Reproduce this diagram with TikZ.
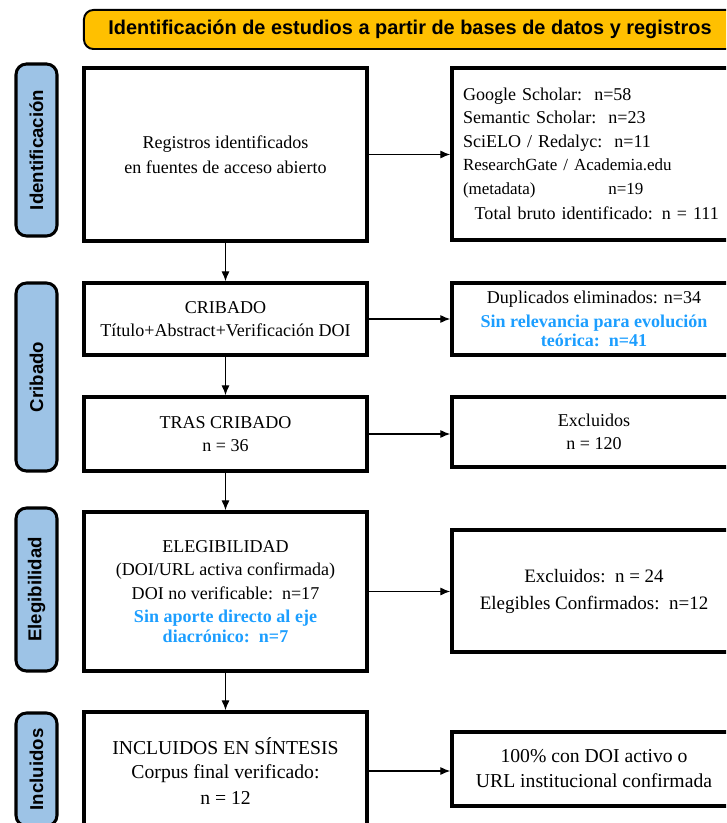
\documentclass[tikz,border=0pt]{standalone}
\usepackage{fontspec}
\setmainfont{Liberation Serif}
\setsansfont{Liberation Sans}
\usepackage{xcolor}
\usetikzlibrary{arrows,arrows.meta}
\usetikzlibrary{positioning}
\definecolor{myyellow}{RGB}{255,192,0}
\definecolor{myblue}{RGB}{157,195,230}
\definecolor{mysky}{RGB}{28,158,255}
\newcommand{\hl}{\color{mysky}\bfseries}

\begin{document}
\begin{tikzpicture}[x=0.03cm, y=-0.03cm,
    box/.style={draw, line width=3pt, minimum width=8.49cm, align=center, inner sep=2pt,
        font=\fontsize{15.4}{20}\selectfont},
    side/.style={draw, line width=3pt, minimum width=8.52cm, align=center, inner sep=2pt,
        font=\fontsize{15.4}{20}\selectfont},
    phase/.style={draw, line width=2.6pt, fill=myblue, rounded corners=9pt, rotate=90,
        minimum height=1.23cm, font=\sffamily\bfseries\fontsize{15.9}{18}\selectfont},
    arr/.style={-{Latex[length=8.5pt,width=7pt]}, line width=1.1pt}]

    \useasboundingbox (0,0) rectangle (726,823);
    \clip (0,0) rectangle (726,823);

    \node[draw, line width=1.7pt, fill=myyellow, rounded corners=8pt, minimum width=19.56cm,
        minimum height=1.17cm, font=\sffamily\bfseries\fontsize{17}{20}\selectfont]
        (title) at (410,29.5) {Identificación de estudios a partir de bases de datos y registros};

    \node[phase, minimum width=5.16cm] (ident) at (36.5,150) {Identificación};
    \node[phase, minimum width=5.64cm] (crib) at (36.5,377) {Cribado};
    \node[phase, minimum width=4.89cm] (eleg) at (36.5,589.5) {Elegibilidad};
    \node[phase, minimum width=3.39cm] (incl) at (36.5,769.5) {Incluidos};

    \node[box, minimum height=5.19cm] (reg) at (225.5,154.5)
        {Registros identificados\\[1.3pt] en fuentes de acceso abierto};
    \node[box, minimum height=2.16cm] (cribado) at (225.5,319)
        {CRIBADO\\ Título+Abstract+Verificación DOI};
    \node[box, minimum height=2.22cm] (tras) at (225.5,434)
        {TRAS CRIBADO\\ n = 36};
    \node[box, minimum height=4.77cm] (elegib) at (225.5,591.5)
        {ELEGIBILIDAD\\ (DOI/URL activa confirmada)\\ DOI no verificable:\ \ n=17\\
        \hl Sin aporte directo al eje\\[-3pt] \hl diacrónico:\ \ n=7};
    \node[box, minimum height=3.54cm, font=\fontsize{16.8}{20.5}\selectfont] (sintesis) at (225.5,771)
        {INCLUIDOS EN SÍNTESIS\\ Corpus final verificado:\\[1.5pt] n = 12};

    \node[side, align=left, text width=7.86cm, inner xsep=0.33cm, minimum height=5.16cm]
        (fuentes) at (594,154)
        {Google Scholar:\ \ n=58\\ Semantic Scholar:\ \ n=23\\ SciELO / Redalyc:\ \ n=11\\
        \fontsize{14.5}{20}\selectfont ResearchGate / Academia.edu\\
        \fontsize{14.5}{20}\selectfont (metadata)\hspace{62pt}n=19\\[2pt]
        \fontsize{15.4}{20}\selectfont\hspace*{10pt}Total bruto identificado: n = 111};
    \node[side, minimum height=2.16cm] (duplic) at (594,319)
        {Duplicados eliminados: n=34\\
        \hl Sin relevancia para evolución\\[-3.4pt] \hl teórica:\ \ n=41};
    \node[side, minimum height=2.10cm] (excl) at (594,432)
        {Excluidos\\ n = 120};
    \node[side, minimum height=3.66cm, font=\fontsize{16.2}{23}\selectfont] (excl2) at (594,591)
        {Excluidos:\ \ n = 24\\ Elegibles Confirmados:\ \ n=12};
    \node[side, minimum height=2.22cm, font=\fontsize{16.8}{21.3}\selectfont] (doi) at (594,769)
        {100\% con DOI activo o\\ URL institucional confirmada};

    \draw[arr] (reg.south) -- (cribado.north);
    \draw[arr] (cribado.south) -- (tras.north);
    \draw[arr] (tras.south) -- (elegib.north);
    \draw[arr] (elegib.south) -- (sintesis.north);

    \draw[arr] (reg.east) -- (reg.east -| fuentes.west);
    \draw[arr] (cribado.east) -- (cribado.east -| duplic.west);
    \draw[arr] (tras.east) -- (tras.east -| excl.west);
    \draw[arr] (elegib.east) -- (elegib.east -| excl2.west);
    \draw[arr] (sintesis.east) -- (sintesis.east -| doi.west);
\end{tikzpicture}
\end{document}
